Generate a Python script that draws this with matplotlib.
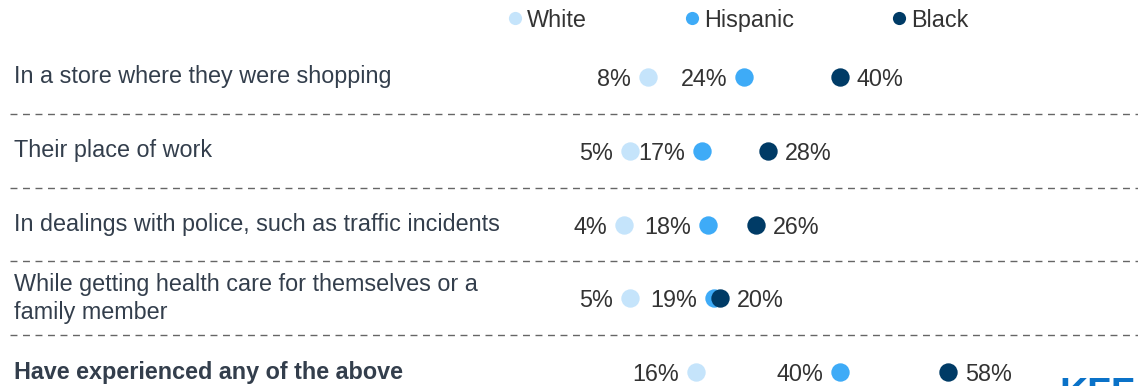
import matplotlib
matplotlib.use("Agg")
import matplotlib.pyplot as plt

plt.rcParams['font.family'] = ['Liberation Sans', 'DejaVu Sans']

# survey rows, top to bottom
categories = [
    "In a store where they were shopping",
    "Their place of work",
    "In dealings with police, such as traffic incidents",
    "While getting health care for themselves or a\nfamily member",
    "Have experienced any of the above",
]
groups = ["White", "Hispanic", "Black"]
white = [8, 5, 4, 5, 16]
hispanic = [24, 17, 18, 19, 40]
black = [40, 28, 26, 20, 58]

colors = {"White": "#C5E4FB", "Hispanic": "#3EABF7", "Black": "#003B66"}
label_color = "#333333"
cat_color = "#333E4C"
fs = 16.8

W, H, DPI = 1138, 386, 100
fig = plt.figure(figsize=(W / DPI, H / DPI), dpi=DPI)
ax = fig.add_axes([0, 0, 1, 1])
# 0% sits at 600px, 6px per point; rows 73.75px apart
ax.set_xlim(-100, (W - 600) / 6)
ax.set_ylim((H - 77) / 73.75, -77 / 73.75)
ax.axis("off")

rows = list(range(len(categories)))

# dashed separators between rows
for r in rows[:-1]:
    ax.axhline(r + 0.5, xmin=10 / W, xmax=1, color="#666666", lw=1.0,
               ls=(0, (5, 4)))

for r, cat in zip(rows, categories):
    bold = r == len(categories) - 1
    ax.text(14 / W, r, cat, transform=ax.get_yaxis_transform(),
            ha="left", va="center", fontsize=fs, color=cat_color,
            fontweight="bold" if bold else "normal", linespacing=1.25)

series = {"White": white, "Hispanic": hispanic, "Black": black}
for name, vals in series.items():
    ax.scatter(vals, rows, s=175, color=colors[name], zorder=3, linewidths=0)
    for r, v in zip(rows, vals):
        if name == "Black":
            ax.annotate(f"{v}%", (v, r), xytext=(12, 0), textcoords="offset points",
                        ha="left", va="center_baseline", fontsize=fs,
                        color=label_color)
        else:
            ax.annotate(f"{v}%", (v, r), xytext=(-12, 0), textcoords="offset points",
                        ha="right", va="center_baseline", fontsize=fs,
                        color=label_color)

# legend across the top
legend_x = [514.5 / W, 692 / W, 899 / W]
ly = 1 - 18 / H
for name, lx in zip(groups, legend_x):
    ax.scatter([lx], [ly], s=90, color=colors[name], transform=ax.transAxes,
               linewidths=0, clip_on=False)
    ax.text(lx + 12 / W, ly, name, transform=ax.transAxes, ha="left",
            va="center_baseline", fontsize=fs, color=label_color)

# logo peeking in at the bottom right
fig.text(1059 / W, 1 - 377 / H, "KFF", ha="left", va="top", fontsize=28,
         fontweight="bold", color="#0A72C8")

fig.savefig("out.png", dpi=DPI, facecolor="white")
